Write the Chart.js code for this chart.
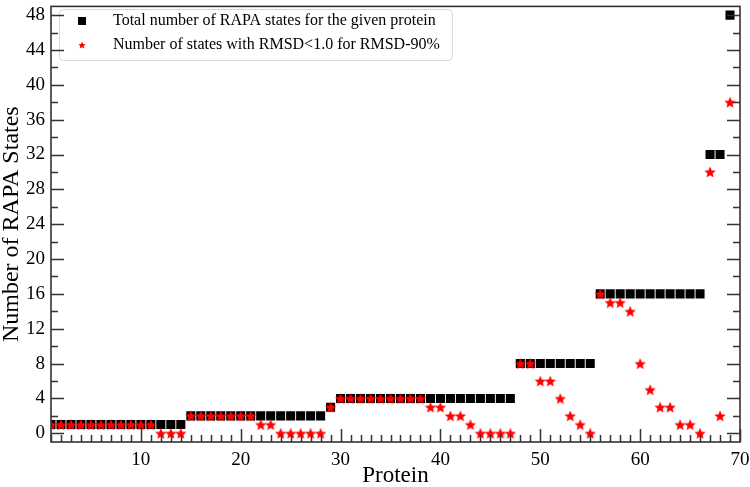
<!DOCTYPE html>
<html>
<head>
<meta charset="utf-8">
<script src="https://cdn.jsdelivr.net/npm/chart.js@4.4.1/dist/chart.umd.min.js"></script>
<style>
html,body{margin:0;padding:0;background:#fff;}
#wrap{width:750px;height:487px;}
</style>
</head>
<body>
<div id="wrap"><canvas id="c" width="750" height="487"></canvas></div>
<script>
const proteins = [1,2,3,4,5,6,7,8,9,10,11,12,13,14,15,16,17,18,19,20,21,22,23,24,25,26,27,28,29,30,
  31,32,33,34,35,36,37,38,39,40,41,42,43,44,45,46,47,48,49,50,51,52,53,54,55,56,57,58,59,60,
  61,62,63,64,65,66,67,68,69];
const totalStates = [1,1,1,1,1,1,1,1,1,1,1,1,1,1,
  2,2,2,2,2,2,2,2,2,2,2,2,2,2,
  3,
  4,4,4,4,4,4,4,4,4,4,4,4,4,4,4,4,4,4,
  8,8,8,8,8,8,8,8,
  16,16,16,16,16,16,16,16,16,16,16,
  32,32,
  48];
const rmsdStates = [1,1,1,1,1,1,1,1,1,1,1,0,0,0,
  2,2,2,2,2,2,2,1,1,0,0,0,0,0,
  3,
  4,4,4,4,4,4,4,4,4,3,3,2,2,1,0,0,0,0,
  8,8,6,6,4,2,1,0,
  16,15,15,14,8,5,3,3,1,1,0,
  30,2,
  38];
const xTickLabels = [10,20,30,40,50,60,70];
const yTickLabels = [0,4,8,12,16,20,24,28,32,36,40,44,48];
const seriesNames = ['Total number of RAPA states for the given protein',
                     'Number of states with RMSD<1.0 for RMSD-90%'];
const xTitle = 'Protein';
const yTitle = 'Number of RAPA States';

const FONT = "'Liberation Serif','Times New Roman',serif";
const AXIS_COLOR = '#333333';

function starCanvas(R, color) {
  const s = Math.ceil(2 * R + 2);
  const c = document.createElement('canvas');
  c.width = s; c.height = s;
  const g = c.getContext('2d');
  g.fillStyle = color;
  g.beginPath();
  const r = R * 0.45;
  const cy = s / 2 + R * 0.1;
  for (let i = 0; i < 10; i++) {
    const a = -Math.PI / 2 + i * Math.PI / 5;
    const rr = (i % 2) ? r : R;
    g.lineTo(s / 2 + rr * Math.cos(a), cy + rr * Math.sin(a));
  }
  g.closePath();
  g.fill();
  return c;
}
function squareCanvas(size, color) {
  const c = document.createElement('canvas');
  c.width = size; c.height = size;
  const g = c.getContext('2d');
  g.fillStyle = color;
  g.fillRect(0, 0, size, size);
  return c;
}
const dataStar = starCanvas(6, '#ff0000');
const legendStar = starCanvas(3.9, '#ff0000');
const legendSquare = squareCanvas(8, '#000000');

const toPoints = (ys) => proteins.map((x, i) => ({x: x, y: ys[i]}));

const frame = {
  id: 'frame',
  beforeDatasetsDraw(chart) {
    const lg = chart.legend;
    if (!lg || !lg.legendHitBoxes || !lg.legendHitBoxes.length) return;
    const hb = lg.legendHitBoxes;
    const x0 = hb[0].left;
    const y0 = hb[0].top - 4;
    let x1 = 0;
    hb.forEach(h => { x1 = Math.max(x1, h.left + h.width); });
    x1 += 12;
    const last = hb[hb.length - 1];
    const y1 = last.top + last.height + 7;
    const ctx = chart.ctx;
    ctx.save();
    ctx.strokeStyle = '#d6d6d6';
    ctx.lineWidth = 1;
    ctx.beginPath();
    ctx.roundRect(x0 + 0.5, y0 + 0.5, x1 - x0, y1 - y0, 4);
    ctx.stroke();
    ctx.restore();
  },
  afterDraw(chart) {
    const ctx = chart.ctx;
    const a = chart.chartArea;
    const xs = chart.scales.x, ys = chart.scales.y;
    ctx.save();
    ctx.strokeStyle = AXIS_COLOR;
    ctx.lineWidth = 1.5;
    ctx.beginPath();
    for (let v = Math.ceil(xs.min); v <= xs.max; v++) {
      const px = Math.round(xs.getPixelForValue(v)) + 0.5;
      const len = (v % 10 === 0) ? 13 : 7;
      ctx.moveTo(px, a.bottom);
      ctx.lineTo(px, a.bottom - len);
    }
    for (let v = 0; v <= ys.max; v += 2) {
      const py = Math.round(ys.getPixelForValue(v)) + 0.5;
      const len = (v % 4 === 0) ? 13 : 7;
      ctx.moveTo(a.left, py); ctx.lineTo(a.left + len, py);
      ctx.moveTo(a.right, py); ctx.lineTo(a.right - len, py);
    }
    ctx.stroke();
    ctx.lineWidth = 1.6;
    ctx.strokeRect(a.left, a.top, a.right - a.left, a.bottom - a.top);
    ctx.restore();
  }
};

new Chart(document.getElementById('c'), {
  type: 'scatter',
  data: {
    datasets: [
      {
        label: seriesNames[0],
        data: toPoints(totalStates),
        pointStyle: 'rect',
        pointRadius: 6.4,
        pointHoverRadius: 6.4,
        pointBackgroundColor: '#000000',
        pointBorderWidth: 0,
        order: 2
      },
      {
        label: seriesNames[1],
        data: toPoints(rmsdStates),
        pointStyle: dataStar,
        pointRadius: 6,
        pointBackgroundColor: '#ff0000',
        pointBorderWidth: 0,
        order: 1
      }
    ]
  },
  options: {
    responsive: false,
    animation: false,
    events: [],
    layout: { padding: { top: 2, right: 10, left: 0, bottom: 0 } },
    plugins: {
      tooltip: { enabled: false },
      legend: {
        display: true,
        position: 'chartArea',
        align: 'start',
        title: { display: true, text: ' ', font: { size: 1, lineHeight: 1 }, padding: { top: 4, bottom: 0 } },
        labels: {
          usePointStyle: true,
          pointStyleWidth: 46,
          padding: 8,
          color: '#000000',
          font: { family: FONT, size: 16 },
          generateLabels() {
            return [
              { text: seriesNames[0], pointStyle: legendSquare, fillStyle: '#000', strokeStyle: '#000', lineWidth: 0, hidden: false, datasetIndex: 0, fontColor: '#000' },
              { text: seriesNames[1], pointStyle: legendStar, fillStyle: '#f00', strokeStyle: '#f00', lineWidth: 0, hidden: false, datasetIndex: 1, fontColor: '#000' }
            ];
          }
        }
      }
    },
    scales: {
      x: {
        type: 'linear',
        min: 1,
        max: 70,
        afterBuildTicks(scale) { scale.ticks = xTickLabels.map(v => ({ value: v })); },
        afterFit(scale) { scale.height = 45; scale.paddingLeft = 0; scale.paddingRight = 0; },
        grid: { display: false, drawTicks: false },
        border: { display: false },
        ticks: {
          autoSkip: false, maxRotation: 0, padding: 7,
          color: '#000', font: { family: FONT, size: 19 }
        },
        title: {
          display: true, text: xTitle, color: '#000',
          font: { family: FONT, size: 23, lineHeight: 1 },
          padding: { top: 0, bottom: 0 }
        }
      },
      y: {
        type: 'linear',
        min: -1,
        max: 49,
        afterBuildTicks(scale) { scale.ticks = yTickLabels.map(v => ({ value: v })); },
        afterFit(scale) { scale.width = 51; scale.paddingTop = 0; scale.paddingBottom = 0; },
        grid: { display: false, drawTicks: false },
        border: { display: false },
        ticks: {
          autoSkip: false, padding: 6,
          color: '#000', font: { family: FONT, size: 19 }
        },
        title: {
          display: true, text: yTitle, color: '#000',
          font: { family: FONT, size: 24, lineHeight: 1 },
          padding: { top: 0, bottom: 0 }
        }
      }
    }
  },
  plugins: [frame]
});
</script>
</body>
</html>
